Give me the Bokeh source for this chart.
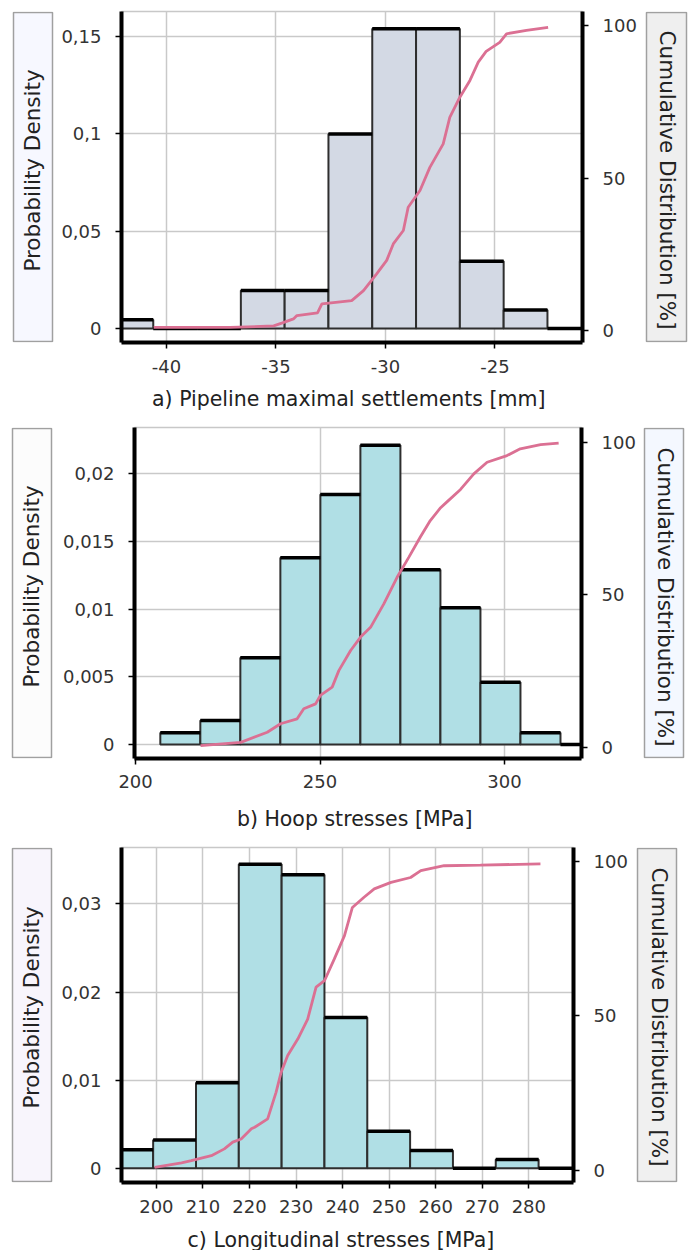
import math
from bokeh.plotting import figure
from bokeh.layouts import row, column
from bokeh.models import Range1d, LinearAxis, FixedTicker, CustomJSTickFormatter
from bokeh.core.properties import value
from bokeh.embed import file_html
from bokeh.resources import INLINE

FONT = "DejaVu Sans"

# ---------------- data ----------------
# a) Pipeline maximal settlements [mm]
a_edges = [-42.6, -40.6, -38.6, -36.6, -34.6, -32.6, -30.6, -28.6, -26.6, -24.6, -22.6, -20.6]
a_density = [0.0045, 0.0, 0.0, 0.0195, 0.0195, 0.100, 0.154, 0.154, 0.0345, 0.0095, 0.0]
a_cdf_x = [-40.58, -37.1, -35.1, -34.7, -34.2, -34.04, -33.1, -32.9, -31.54, -31.0, -30.4,
           -29.94, -29.64, -29.18, -28.96, -28.42, -27.97, -27.36, -27.06, -26.6, -26.14,
           -25.76, -25.4, -24.78, -24.47, -23.56, -22.57]
a_cdf_y = [1.0, 1.0, 1.5, 2.5, 3.8, 4.9, 5.8, 8.7, 9.8, 13.1, 18.6, 23.0, 28.4, 32.8, 40.4,
           45.9, 53.5, 61.2, 69.9, 76.5, 82.0, 88.0, 91.5, 94.5, 97.3, 98.4, 99.4]
a_xticks = [-40, -35, -30, -25]
a_xlabels = ["-40", "-35", "-30", "-25"]
a_yticks = [0, 0.05, 0.1, 0.15]
a_ylabels = ["0", "0,05", "0,1", "0,15"]

# b) Hoop stresses [MPa]
b_edges = [206.7, 217.55, 228.4, 239.25, 250.1, 260.95, 271.8, 282.65, 293.5, 304.35, 315.2, 326.05]
b_density = [0.00088, 0.00178, 0.0064, 0.0138, 0.01846, 0.0221, 0.0129, 0.0101, 0.0046, 0.00088, 0.0]
b_cdf_x = [217.6, 228.5, 235.7, 239.3, 243.8, 245.6, 248.8, 250.1, 253.3, 255.1, 258.3, 261.0,
           263.7, 267.3, 270.9, 274.1, 277.2, 279.9, 282.7, 284.5, 288.1, 291.7, 295.3, 300.7,
           304.3, 309.8, 314.7]
b_cdf_y = [0.5, 1.6, 4.9, 7.7, 9.3, 12.6, 14.2, 17.0, 19.7, 25.1, 31.7, 36.1, 39.3, 47.0, 55.7,
           62.3, 68.9, 74.3, 78.5, 80.5, 84.5, 89.6, 93.4, 95.6, 97.8, 99.2, 99.7]
b_xticks = [200, 250, 300]
b_xlabels = ["200", "250", "300"]
b_yticks = [0, 0.005, 0.01, 0.015, 0.02]
b_ylabels = ["0", "0,005", "0,01", "0,015", "0,02"]

# c) Longitudinal stresses [MPa]
c_edges = [190.1, 199.3, 208.5, 217.7, 226.9, 236.1, 245.3, 254.5, 263.7, 272.9, 282.1, 291.3]
c_density = [0.0021, 0.0032, 0.0097, 0.0345, 0.0333, 0.0171, 0.0042, 0.0020, 0.0, 0.0010, 0.0]
c_cdf_x = [199.6, 205.4, 207.5, 211.8, 214.6, 216.4, 218.2, 220.4, 221.1, 223.9, 225.7, 226.8,
           228.2, 230.4, 232.5, 234.3, 236.1, 238.2, 240.4, 242.1, 244.6, 246.8, 250.4, 254.6,
           256.8, 261.8, 269.6, 282.5]
c_cdf_y = [1.0, 2.5, 3.2, 4.8, 7.0, 9.2, 10.2, 13.5, 14.0, 16.7, 25.3, 31.8, 37.2, 42.6, 49.0,
           59.3, 61.4, 68.4, 76.0, 85.1, 88.4, 91.1, 93.2, 94.8, 97.0, 98.6, 98.8, 99.2]
c_xticks = [200, 210, 220, 230, 240, 250, 260, 270, 280]
c_xlabels = ["200", "210", "220", "230", "240", "250", "260", "270", "280"]
c_yticks = [0, 0.01, 0.02, 0.03]
c_ylabels = ["0", "0,01", "0,02", "0,03"]

cdf_ticks = [0, 50, 100]
cdf_labels = ["0", "50", "100"]

y_left_label = "Probability Density"
y_right_label = "Cumulative Distribution  [%]"
a_title = "a) Pipeline maximal settlements  [mm]"
b_title = "b) Hoop stresses  [MPa]"
c_title = "c) Longitudinal stresses   [MPa]"


def fmt(ticks, labels):
    return CustomJSTickFormatter(args=dict(tv=list(ticks), tl=list(labels)), code="""
        for (let i = 0; i < tv.length; i++) {
            if (Math.abs(tv[i] - tick) < 1e-9) { return tl[i]; }
        }
        return "";
    """)


def label_fig(width, height, mbt, mbb, bx0, bx1, fill, text, angle, tx, ty):
    # data coordinates = pixels from the figure's top-left corner
    f = figure(width=width, height=height, x_range=Range1d(0, width),
               y_range=Range1d(height - mbb, mbt),
               output_backend="svg", toolbar_location=None,
               min_border_left=0, min_border_right=0,
               min_border_top=mbt, min_border_bottom=mbb,
               x_axis_type=None, y_axis_type=None)
    f.grid.visible = False
    f.outline_line_color = None
    f.background_fill_color = "white"
    f.border_fill_color = "white"
    f.quad(left=[bx0], right=[bx1], top=[mbt + 1], bottom=[height - mbb - 1], fill_color=fill,
           line_color="#a0a0a0", line_width=1.5)
    f.text(x=[tx], y=[ty], text=[text], angle=angle, text_align="center",
           text_baseline="middle", text_font=value(FONT), text_font_size="21.5px",
           text_color="#222222")
    return f


def main_fig(width, height, mbl, mbr, mbt, mbb, xr, yr, cr, edges, dens, fill,
             cx, cy, xticks, xlabels, yticks, ylabels, title, tick_sd, lab_sd):
    p = figure(width=width, height=height, x_range=Range1d(*xr), y_range=Range1d(*yr),
               output_backend="svg", toolbar_location=None,
               min_border_left=mbl, min_border_right=mbr, min_border_top=mbt,
               min_border_bottom=mbb)
    p.extra_y_ranges = {"cdf": Range1d(*cr)}
    right = LinearAxis(y_range_name="cdf")
    p.add_layout(right, "right")
    p.background_fill_color = "white"
    p.border_fill_color = "white"
    p.outline_line_color = "#c8c8c8"
    p.outline_line_width = 1.5

    xt = FixedTicker(ticks=xticks)
    yt = FixedTicker(ticks=yticks)
    p.xaxis.ticker = xt
    p.xgrid.ticker = xt
    p.yaxis.ticker = yt
    p.ygrid.ticker = yt
    right.ticker = FixedTicker(ticks=cdf_ticks)
    p.xaxis.formatter = fmt(xticks, xlabels)
    p.yaxis.formatter = fmt(yticks, ylabels)
    right.formatter = fmt(cdf_ticks, cdf_labels)

    p.grid.grid_line_color = "#c9c9c9"
    p.grid.grid_line_width = 1.5

    for ax in [p.xaxis[0], p.yaxis[0], right]:
        ax.axis_line_width = 4
        ax.axis_line_color = "black"
        ax.major_tick_line_color = "black"
        ax.major_tick_line_width = 1.5
        ax.major_tick_out = 6
        ax.major_tick_in = 0
        ax.minor_tick_line_color = None
        ax.major_label_text_font = FONT
        ax.major_label_text_font_size = "18px"
        ax.major_label_text_color = "#333333"
        ax.major_label_standoff = 14
    p.xaxis.major_label_standoff = tick_sd
    p.xaxis.axis_label = title
    p.xaxis.axis_label_text_font = FONT
    p.xaxis.axis_label_text_font_size = "20.5px"
    p.xaxis.axis_label_text_font_style = "normal"
    p.xaxis.axis_label_text_color = "#222222"
    p.xaxis.axis_label_standoff = lab_sd

    lefts = edges[:-1]
    rights = edges[1:]
    p.quad(left=lefts, right=rights, top=dens, bottom=[0] * len(dens),
           fill_color=fill, line_color="#2e2e2e", line_width=2)
    p.segment(x0=lefts, x1=rights, y0=dens, y1=dens, line_color="black", line_width=3.5)
    p.line(cx, cy, y_range_name="cdf", line_color="#db7093", line_width=2.8)
    return p


# ---------------- panel a (page y 0..420) ----------------
Ha, ta, ba = 420, 11, 78
la = label_fig(58, Ha, ta, ba, 13, 52, "#f7f8ff", y_left_label, math.pi / 2, 32, 170)
pa = main_fig(582, Ha, 63, 58, ta, ba, (-42.05, -21.0), (-0.0072, 0.1629), (-3.93, 104.6),
              a_edges, a_density, "#d3d9e4", a_cdf_x, a_cdf_y,
              a_xticks, a_xlabels, a_yticks, a_ylabels, a_title, 11, 11)
ra = label_fig(49, Ha, ta, ba, 6, 46, "#efefef", y_right_label, -math.pi / 2, 27, 183)

# ---------------- panel b (page y 420..840) ----------------
Hb, tb, bb = 420, 7, 82
lb = label_fig(58, Hb, tb, bb, 12, 51, "#fcfcfc", y_left_label, math.pi / 2, 31, 166)
pb = main_fig(580, Hb, 76, 57, tb, bb, (199.7, 320.9), (-0.00103, 0.02341), (-3.7, 104.8),
              b_edges, b_density, "#b0dfe5", b_cdf_x, b_cdf_y,
              b_xticks, b_xlabels, b_yticks, b_ylabels, b_title, 10, 16)
rb = label_fig(51, Hb, tb, bb, 6, 45, "#f4f8ff", y_right_label, -math.pi / 2, 27, 180)

# ---------------- panel c (page y 840..) ----------------
Hc, tc, bc = 430, 7, 88
lc = label_fig(58, Hc, tc, bc, 12, 51, "#f8f5fc", y_left_label, math.pi / 2, 31, 167)
pc = main_fig(573, Hc, 62, 58, tc, bc, (192.5, 289.6), (-0.00162, 0.0364), (-3.88, 104.5),
              c_edges, c_density, "#b0dfe5", c_cdf_x, c_cdf_y,
              c_xticks, c_xlabels, c_yticks, c_ylabels, c_title, 11, 12)
rc = label_fig(58, Hc, tc, bc, 6, 45, "#f0f0f0", y_right_label, -math.pi / 2, 28, 180)

layout = column(row(la, pa, ra), row(lb, pb, rb), row(lc, pc, rc))

open("out.html", "w").write(file_html(layout, INLINE))
